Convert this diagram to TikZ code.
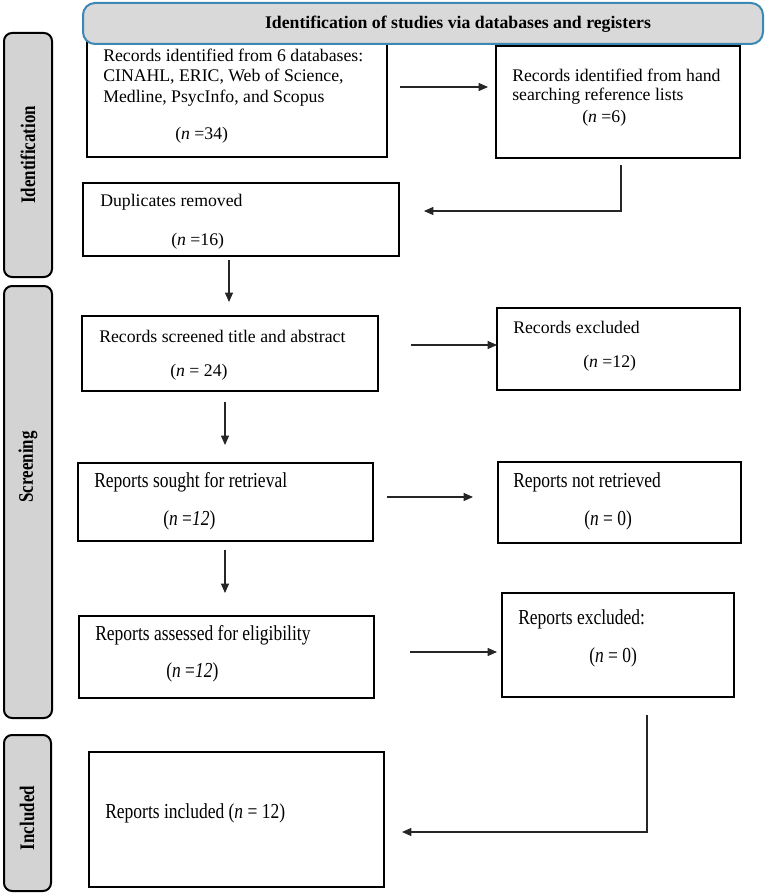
\documentclass[tikz,border=0pt]{standalone}
\usepackage{fontspec}
\setmainfont{Liberation Serif}
\newfontfamily\condfont[FakeStretch=0.82]{Liberation Serif}
\usetikzlibrary{arrows.meta,fit}
\definecolor{hdrblue}{HTML}{3A88B3}
\definecolor{sidegrey}{HTML}{D3D3D3}
\definecolor{hdrgrey}{HTML}{D9D9D9}
\begin{document}
\begin{tikzpicture}[x=0.75pt,y=-0.75pt,
  box/.style={draw=black, line width=1.3pt, inner sep=0pt, fill=white},
  lbl/.style={anchor=west, inner sep=0pt, font=\fontsize{13.3}{16.5}\selectfont},
  clbl/.style={anchor=west, inner sep=0pt, font=\condfont\fontsize{16}{18}\selectfont},
  side/.style={draw=black, line width=1.5pt, fill=sidegrey, rounded corners=6pt, inner sep=0pt},
  sidetxt/.style={rotate=90, font=\condfont\fontsize{15.5}{17}\selectfont\bfseries, inner sep=0pt},
  arr/.style={-{Triangle[length=7pt,width=6pt]}, line width=0.8pt, draw=black!85},
]
\useasboundingbox (0,0) rectangle (766,895);

% side labels
\node[side, fit={(4,33) (52,277)}] (sI) {};
\node[sidetxt] (sIt) at (28,155) {Identification};
\node[side, fit={(4,286) (52,718)}] (sS) {};
\node[sidetxt] (sSt) at (28,467) {Screening};
\node[side, fit={(4,735) (51,891)}] (sN) {};
\node[sidetxt] (sNt) at (27,818) {Included};

% boxes
\node[box, fit={(87,40) (387,157)}] (b1) {};
\node[box, fit={(496,46) (740,158)}] (b2) {};
\node[box, fit={(83,183) (399,256)}] (b3) {};
\node[box, fit={(82,316) (378,391)}] (b4) {};
\node[box, fit={(497,308) (740,390)}] (b5) {};
\node[box, fit={(78,463) (373,541)}] (b6) {};
\node[box, fit={(498,462) (741,543)}] (b7) {};
\node[box, fit={(79,616) (374,698)}] (b8) {};
\node[box, fit={(502,593) (734,697)}] (b9) {};
\node[box, fit={(89,752) (384,887)}] (b10) {};

% header
\node[draw=hdrblue, line width=1.5pt, fill=hdrgrey, rounded corners=9pt, inner sep=0pt,
      fit={(83,3) (763,44)}] (hdr) {};
\node[font=\fontsize{13.3}{16}\selectfont\bfseries, inner sep=0pt] (hdrt) at (458,24)
  {Identification of studies via databases and registers};

% texts
\node[lbl] (t1a) at (103,55) {Records identified from 6 databases:};
\node[lbl] (t1b) at (103,77) {CINAHL, ERIC, Web of Science,};
\node[lbl] (t1c) at (103,98) {Medline, PsycInfo, and Scopus};
\node[lbl] (t1d) at (175,135) {(\textit{n} =34)};

\node[lbl] (t2a) at (512,75) {Records identified from hand};
\node[lbl] (t2b) at (512,96) {searching reference lists};
\node[lbl] (t2c) at (582,118) {(\textit{n} =6)};

\node[lbl] (t3a) at (100,202) {Duplicates removed};
\node[lbl] (t3b) at (171,241) {(\textit{n} =16)};

\node[lbl] (t4a) at (99,336) {Records screened title and abstract};
\node[lbl] (t4b) at (170,372) {(\textit{n} = 24)};

\node[lbl] (t5a) at (513,327) {Records excluded};
\node[lbl] (t5b) at (583,363) {(\textit{n} =12)};

\node[clbl] (t6a) at (94,482) {Reports sought for retrieval};
\node[clbl] (t6b) at (163,520) {(\textit{n} =\textit{12})};

\node[clbl] (t7a) at (513,482) {Reports not retrieved};
\node[clbl] (t7b) at (584,520) {(\textit{n} = 0)};

\node[clbl] (t8a) at (95,635) {Reports assessed for eligibility};
\node[clbl] (t8b) at (166,672) {(\textit{n} =\textit{12})};

\node[clbl] (t9a) at (518,619) {Reports excluded:};
\node[clbl] (t9b) at (589,657) {(\textit{n} = 0)};

\node[clbl] (t10) at (105,813) {Reports included (\textit{n} = 12)};

% connector end points
\coordinate (a1s) at (400,87);   \coordinate (a1e) at (488,87);
\coordinate (a2s) at (621,165);  \coordinate (a2k) at (621,211); \coordinate (a2e) at (424,211);
\coordinate (a3s) at (229,260);  \coordinate (a3e) at (229,302);
\coordinate (a4s) at (411,345);  \coordinate (a4e) at (497,345);
\coordinate (a5s) at (225,402);  \coordinate (a5e) at (225,445);
\coordinate (a6s) at (387,497);  \coordinate (a6e) at (473,497);
\coordinate (a7s) at (225,550);  \coordinate (a7e) at (225,593);
\coordinate (a8s) at (410,652);  \coordinate (a8e) at (497,652);
\coordinate (a9s) at (647,715);  \coordinate (a9k) at (647,832); \coordinate (a9e) at (402,832);

\draw[arr] (a1s) -- (a1e);
\draw[arr] (a2s) -- (a2k) -- (a2e);
\draw[arr] (a3s) -- (a3e);
\draw[arr] (a4s) -- (a4e);
\draw[arr] (a5s) -- (a5e);
\draw[arr] (a6s) -- (a6e);
\draw[arr] (a7s) -- (a7e);
\draw[arr] (a8s) -- (a8e);
\draw[arr] (a9s) -- (a9k) -- (a9e);
\end{tikzpicture}
\end{document}
